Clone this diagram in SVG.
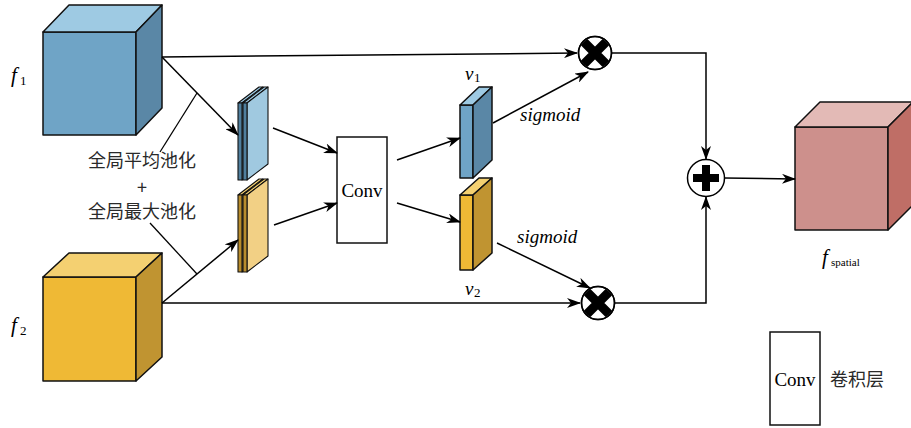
<svg xmlns="http://www.w3.org/2000/svg" width="911" height="428" viewBox="0 0 911 428">
  <defs>
    <marker id="arr" markerUnits="userSpaceOnUse" markerWidth="14" markerHeight="10" refX="13" refY="5" orient="auto">
      <path d="M0,0 L14,5 L0,10 L4,5 Z" fill="#000"/>
    </marker>
    <clipPath id="clipMul1"><circle cx="595" cy="53" r="16"/></clipPath>
    <clipPath id="clipMul2"><circle cx="598" cy="303" r="16"/></clipPath>
  </defs>
  <style>
    .edge { stroke: #000; stroke-width: 1.5; fill: none; }
    .lead { stroke: #000; stroke-width: 1.3; fill: none; }
    .face { stroke: #111; stroke-width: 1.5; stroke-linejoin: round; }
    .thin { stroke: #111; stroke-width: 1.1; stroke-linejoin: round; }
    .serif { font-family: "Liberation Serif", "DejaVu Serif", serif; fill: #000; }
    .cjk { font-family: "Noto Sans CJK SC", "Noto Sans", sans-serif; fill: #2a2a2a; }
    .box { fill: #fff; stroke: #111; stroke-width: 1.5; }
    .ring { fill: #fff; stroke: #000; stroke-width: 1.5; }
  </style>

  <!-- feature cube f1 -->
  <g id="f1">
    <rect class="face" x="43" y="32" width="93" height="103" fill="#6fa4c6"/>
    <polygon class="face" points="43,32 69,5 162,5 136,32" fill="#9ecae3"/>
    <polygon class="face" points="136,32 162,5 162,108 136,135" fill="#5a87a6"/>
    <text class="serif" x="11" y="82" font-size="21" font-style="italic">f</text>
    <text class="serif" x="20" y="85" font-size="13">1</text>
  </g>

  <!-- feature cube f2 -->
  <g id="f2">
    <rect class="face" x="43" y="277" width="93" height="104" fill="#efb935"/>
    <polygon class="face" points="43,277 69,253 162,253 136,277" fill="#f4d071"/>
    <polygon class="face" points="136,277 162,253 162,357 136,381" fill="#c09431"/>
    <text class="serif" x="11" y="332" font-size="21" font-style="italic">f</text>
    <text class="serif" x="20" y="335" font-size="13">2</text>
  </g>

  <!-- pooled descriptors of f1 (two thin plates) -->
  <g id="pool1">
    <polygon class="thin" points="238,103 259,87 263,87 242,103" fill="#9ecae3"/>
    <polygon class="thin" points="242,103 263,87 263,164 242,180" fill="#9ecae3"/>
    <rect class="thin" x="238" y="103" width="4" height="77" fill="#4f7f9e"/>
    <polygon class="thin" points="243,103 264,87 268,87 247,103" fill="#9ecae3"/>
    <polygon class="thin" points="247,103 268,87 268,164 247,180" fill="#a0c9e0"/>
    <rect class="thin" x="243" y="103" width="4" height="77" fill="#4f7f9e"/>
  </g>

  <!-- pooled descriptors of f2 (two thin plates) -->
  <g id="pool2">
    <polygon class="thin" points="238,195 259,179 263,179 242,195" fill="#f4d071"/>
    <polygon class="thin" points="242,195 263,179 263,256 242,272" fill="#f2d085"/>
    <rect class="thin" x="238" y="195" width="4" height="77" fill="#b88c2c"/>
    <polygon class="thin" points="243,195 264,179 268,179 247,195" fill="#f4d071"/>
    <polygon class="thin" points="247,195 268,179 268,256 247,272" fill="#f2d085"/>
    <rect class="thin" x="243" y="195" width="4" height="77" fill="#b88c2c"/>
  </g>

  <!-- pooling label -->
  <g id="pool-label">
    <text class="cjk" x="142" y="167" font-size="18" text-anchor="middle">全局平均池化</text>
    <text class="cjk" x="142" y="194" font-size="18" text-anchor="middle">+</text>
    <text class="cjk" x="142" y="218" font-size="18" text-anchor="middle">全局最大池化</text>
  </g>

  <!-- shared convolution -->
  <g id="conv">
    <rect class="box" x="337" y="137" width="50" height="106"/>
    <text class="serif" x="362" y="197" font-size="19" text-anchor="middle">Conv</text>
  </g>

  <!-- channel vector v1 -->
  <g id="v1">
    <rect class="face" x="460" y="105" width="13" height="73" fill="#6fa4c6"/>
    <polygon class="face" points="460,105 479,87 492,87 473,105" fill="#9ecae3"/>
    <polygon class="face" points="473,105 492,87 492,160 473,178" fill="#5a87a6"/>
    <text class="serif" x="465" y="80" font-size="19" font-style="italic">v</text>
    <text class="serif" x="474" y="82" font-size="13">1</text>
  </g>

  <!-- channel vector v2 -->
  <g id="v2">
    <rect class="face" x="460" y="195" width="13" height="75" fill="#efb935"/>
    <polygon class="face" points="460,195 479,178 492,178 473,195" fill="#f4d071"/>
    <polygon class="face" points="473,195 492,178 492,253 473,270" fill="#c09431"/>
    <text class="serif" x="465" y="295" font-size="19" font-style="italic">v</text>
    <text class="serif" x="474" y="297" font-size="13">2</text>
  </g>

  <!-- activation labels -->
  <g id="sigmoid-labels">
    <text class="serif" x="520" y="121" font-size="19" font-style="italic">sigmoid</text>
    <text class="serif" x="517" y="243" font-size="19" font-style="italic">sigmoid</text>
  </g>

  <!-- element-wise products -->
  <g id="mul1">
    <circle class="ring" cx="595" cy="53" r="16.5"/>
    <path clip-path="url(#clipMul1)" d="M583,41 L607,65 M607,41 L583,65" stroke="#000" stroke-width="9"/>
    <circle cx="595" cy="53" r="16.5" fill="none" stroke="#000" stroke-width="1.5"/>
  </g>
  <g id="mul2">
    <circle class="ring" cx="598" cy="303" r="16.5"/>
    <path clip-path="url(#clipMul2)" d="M586,291 L610,315 M610,291 L586,315" stroke="#000" stroke-width="9"/>
    <circle cx="598" cy="303" r="16.5" fill="none" stroke="#000" stroke-width="1.5"/>
  </g>

  <!-- element-wise sum -->
  <g id="add">
    <circle class="ring" cx="706" cy="178" r="18.5"/>
    <path d="M693,178 H719 M706,165 V191" stroke="#000" stroke-width="8"/>
  </g>

  <!-- output cube f_spatial -->
  <g id="fspatial">
    <rect class="face" x="795" y="127" width="93" height="103" fill="#cd908c"/>
    <polygon class="face" points="795,127 820,102 913,102 888,127" fill="#e3bab6"/>
    <polygon class="face" points="888,127 913,102 913,205 888,230" fill="#bf6e66"/>
    <text class="serif" x="822" y="264" font-size="21" font-style="italic">f</text>
    <text class="serif" x="831" y="266" font-size="11">spatial</text>
  </g>

  <!-- legend -->
  <g id="legend">
    <rect class="box" x="770" y="332" width="50" height="93"/>
    <text class="serif" x="795" y="386" font-size="19" text-anchor="middle">Conv</text>
    <text class="cjk" x="830" y="386" font-size="18">卷积层</text>
  </g>

  <!-- connectors -->
  <g id="connectors">
    <path class="edge" d="M162,57 L577,53" marker-end="url(#arr)"/>
    <path class="edge" d="M162,57 L238,135" marker-end="url(#arr)"/>
    <path class="edge" d="M162,303 L580,303" marker-end="url(#arr)"/>
    <path class="edge" d="M162,303 L238,240" marker-end="url(#arr)"/>
    <path class="lead" d="M197,93 L160,152"/>
    <path class="lead" d="M150,223 L197,274"/>
    <path class="edge" d="M273,128 L337,153" marker-end="url(#arr)"/>
    <path class="edge" d="M274,225 L337,203" marker-end="url(#arr)"/>
    <path class="edge" d="M397,160 L460,138" marker-end="url(#arr)"/>
    <path class="edge" d="M397,203 L460,222" marker-end="url(#arr)"/>
    <path class="edge" d="M493,123 L588,72" marker-end="url(#arr)"/>
    <path class="edge" d="M497,243 L590,288" marker-end="url(#arr)"/>
    <path class="edge" d="M611.5,53 H706 V159" marker-end="url(#arr)"/>
    <path class="edge" d="M614.5,303 H706 V197" marker-end="url(#arr)"/>
    <path class="edge" d="M724.5,178 L795,179" marker-end="url(#arr)"/>
  </g>
</svg>
